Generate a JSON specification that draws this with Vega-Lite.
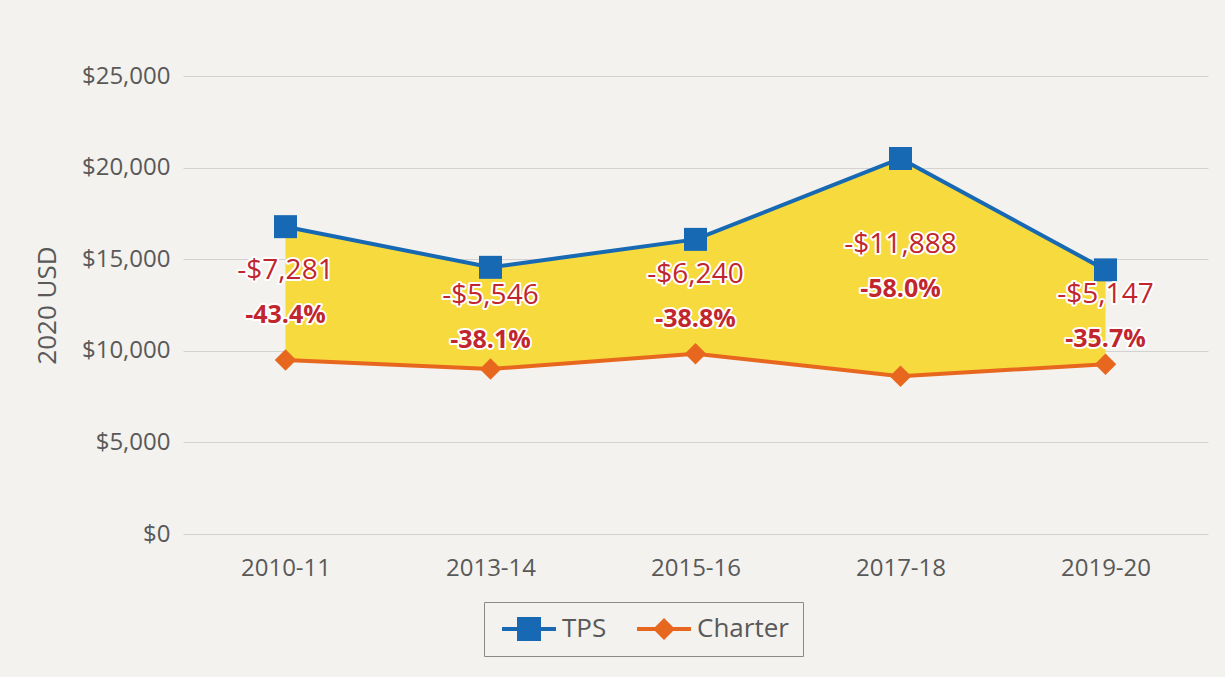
{
  "$schema": "https://vega.github.io/schema/vega-lite/v6.json",
  "width": 1025,
  "height": 458,
  "autosize": "none",
  "padding": {"left": 183, "top": 76, "right": 17, "bottom": 143},
  "background": "#f3f2ee",
  "config": {
    "font": "Open Sans",
    "view": {"stroke": null},
    "axis": {"labelColor": "#595959", "titleColor": "#595959"}
  },
  "data": {
    "values": [
      {"year": "2010-11", "TPS": 16776, "Charter": 9495, "diff": "-$7,281", "pct": "-43.4%"},
      {"year": "2013-14", "TPS": 14556, "Charter": 9010, "diff": "-$5,546", "pct": "-38.1%"},
      {"year": "2015-16", "TPS": 16082, "Charter": 9842, "diff": "-$6,240", "pct": "-38.8%"},
      {"year": "2017-18", "TPS": 20497, "Charter": 8609, "diff": "-$11,888", "pct": "-58.0%"},
      {"year": "2019-20", "TPS": 14417, "Charter": 9270, "diff": "-$5,147", "pct": "-35.7%"}
    ]
  },
  "encoding": {
    "x": {
      "field": "year", "type": "ordinal", "sort": null,
      "scale": {"type": "point", "padding": 0.5},
      "axis": {"title": null, "labelAngle": 0, "labelFontSize": 24, "labelPadding": 22, "domain": false, "ticks": false, "grid": false}
    }
  },
  "layer": [
    {
      "mark": {"type": "area", "color": "#f7da3e", "opacity": 1},
      "encoding": {
        "y": {
          "field": "TPS", "type": "quantitative", "title": "2020 USD",
          "scale": {"domain": [0, 25000], "nice": false},
          "axis": {"values": [0, 5000, 10000, 15000, 20000, 25000], "format": "$,.0f", "labelFontSize": 24, "labelPadding": 13, "domain": false, "ticks": false, "grid": true, "gridColor": "#d2d2d2", "gridWidth": 1.2, "titleFontSize": 26, "titleFontWeight": "normal", "titlePadding": 21}
        },
        "y2": {"field": "Charter"}
      }
    },
    {
      "mark": {"type": "line", "strokeWidth": 4, "color": "#1769b3"},
      "encoding": {"y": {"field": "TPS", "type": "quantitative", "title": "2020 USD"}}
    },
    {
      "mark": {"type": "line", "strokeWidth": 4, "color": "#e8671e"},
      "encoding": {"y": {"field": "Charter", "type": "quantitative", "title": "2020 USD"}}
    },
    {
      "mark": {"type": "point", "filled": true, "opacity": 1, "shape": "square", "size": 529, "color": "#1769b3"},
      "encoding": {"y": {"field": "TPS", "type": "quantitative", "title": "2020 USD"}}
    },
    {
      "mark": {"type": "point", "filled": true, "opacity": 1, "shape": "diamond", "size": 460, "color": "#e8671e"},
      "encoding": {"y": {"field": "Charter", "type": "quantitative", "title": "2020 USD"}}
    },
    {
      "transform": [{"fold": ["TPS", "Charter"], "as": ["series", "value"]}],
      "mark": {"type": "point", "filled": true, "opacity": 0, "size": 676},
      "encoding": {
        "y": {"field": "value", "type": "quantitative", "title": "2020 USD"},
        "color": {
          "field": "series", "type": "nominal",
          "scale": {"domain": ["TPS", "Charter"], "range": ["#1769b3", "#e8671e"]},
          "legend": {
            "title": null, "orient": "none", "legendX": 301, "legendY": 526,
            "direction": "horizontal", "columns": 2,
            "strokeColor": "#8a8a8a", "padding": 14,
            "labelFontSize": 26, "labelColor": "#595959", "labelOffset": 38,
            "columnPadding": 26, "symbolSize": 676, "symbolStrokeWidth": 0, "symbolOpacity": 1
          }
        },
        "shape": {
          "field": "series", "type": "nominal",
          "scale": {"domain": ["TPS", "Charter"], "range": ["M-0.69,-0.154H0.462V-0.923H2.308V-0.154H3.46V0.154H2.308V0.923H0.462V0.154H-0.69Z", "M-0.69,-0.154H0.693L1.385,-0.846L2.077,-0.154H3.46V0.154H2.077L1.385,0.846L0.693,0.154H-0.69Z"]},
          "legend": null
        }
      }
    },
    {
      "transform": [{"fold": ["TPS", "Charter"], "as": ["series", "value"]}],
      "mark": {"type": "text", "fontSize": 28, "dy": -22, "baseline": "middle", "stroke": "white", "strokeWidth": 4, "strokeJoin": "round", "fill": "white"},
      "encoding": {
        "y": {"aggregate": "mean", "field": "value", "type": "quantitative", "title": "2020 USD"},
        "text": {"field": "diff"}
      }
    },
    {
      "transform": [{"fold": ["TPS", "Charter"], "as": ["series", "value"]}],
      "mark": {"type": "text", "fontSize": 28, "dy": -22, "baseline": "middle", "fill": "#c1262e"},
      "encoding": {
        "y": {"aggregate": "mean", "field": "value", "type": "quantitative", "title": "2020 USD"},
        "text": {"field": "diff"}
      }
    },
    {
      "transform": [{"fold": ["TPS", "Charter"], "as": ["series", "value"]}],
      "mark": {"type": "text", "fontSize": 25, "fontWeight": "bold", "dy": 22, "baseline": "middle", "stroke": "white", "strokeWidth": 4, "strokeJoin": "round", "fill": "white"},
      "encoding": {
        "y": {"aggregate": "mean", "field": "value", "type": "quantitative", "title": "2020 USD"},
        "text": {"field": "pct"}
      }
    },
    {
      "transform": [{"fold": ["TPS", "Charter"], "as": ["series", "value"]}],
      "mark": {"type": "text", "fontSize": 25, "fontWeight": "bold", "dy": 22, "baseline": "middle", "fill": "#c1262e"},
      "encoding": {
        "y": {"aggregate": "mean", "field": "value", "type": "quantitative", "title": "2020 USD"},
        "text": {"field": "pct"}
      }
    }
  ]
}
